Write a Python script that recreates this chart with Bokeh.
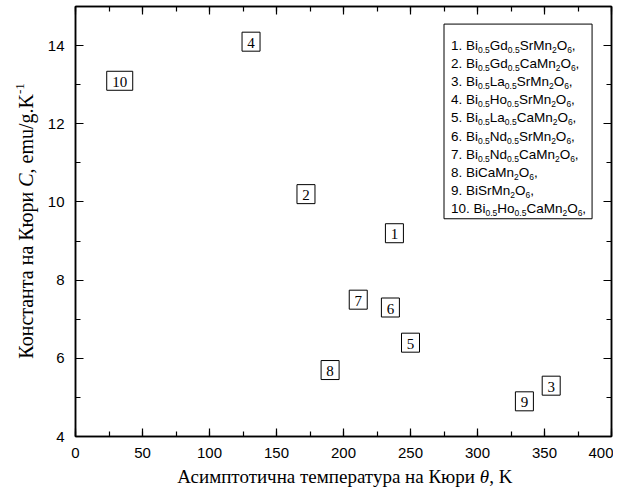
import re
import numpy as np
from bokeh.plotting import figure
from bokeh.models import (ColumnDataSource, LinearAxis, Range1d,
                          CustomJSTickFormatter, SingleIntervalTicker)
from bokeh.core.properties import value
from bokeh.embed import file_html
from bokeh.resources import INLINE

# ---------------- data ----------------
labels = ["1", "2", "3", "4", "5", "6", "7", "8", "9", "10"]
theta = [238, 172, 355, 131, 250, 235, 211, 190, 335, 33]
curie_c = [9.2, 10.2, 5.3, 14.1, 6.4, 7.3, 7.5, 5.7, 4.9, 13.1]

legend_entries = [
    "Bi_{0.5}Gd_{0.5}SrMn_{2}O_{6},",
    "Bi_{0.5}Gd_{0.5}CaMn_{2}O_{6},",
    "Bi_{0.5}La_{0.5}SrMn_{2}O_{6},",
    "Bi_{0.5}Ho_{0.5}SrMn_{2}O_{6},",
    "Bi_{0.5}La_{0.5}CaMn_{2}O_{6},",
    "Bi_{0.5}Nd_{0.5}SrMn_{2}O_{6},",
    "Bi_{0.5}Nd_{0.5}CaMn_{2}O_{6},",
    "BiCaMn_{2}O_{6},",
    "BiSrMn_{2}O_{6},",
    "Bi_{0.5}Ho_{0.5}CaMn_{2}O_{6},",
]

x_title_main = "Асимптотична температура на Кюри"
x_title_sym = "θ"
x_title_unit = ", K"
y_title_main = "Константа на Кюри"
y_title_sym = "C"
y_title_unit = ", emu/g.K"
y_title_sup = "-1"

X_RANGE = (0, 400)
Y_RANGE = (4, 15)

# ---------------- layout ----------------
W, H = 613, 487
BL, BR, BT, BB = 75, 2, 6, 51
FW = W - BL - BR
FH = H - BT - BB


def dx(px):
    return px * (X_RANGE[1] - X_RANGE[0]) / FW


def dy(px):
    return px * (Y_RANGE[1] - Y_RANGE[0]) / FH


p = figure(width=W, height=H, output_backend="svg", toolbar_location=None,
           x_range=Range1d(*X_RANGE), y_range=Range1d(*Y_RANGE),
           min_border_left=BL, min_border_right=BR,
           min_border_top=BT, min_border_bottom=BB,
           x_axis_location=None, y_axis_location=None)
p.grid.visible = False
p.outline_line_color = "black"
p.outline_line_width = 1.5
p.background_fill_color = "white"
p.border_fill_color = "white"

blank = CustomJSTickFormatter(code="return ''")


def make_axis(interval, show_labels, standoff):
    ax = LinearAxis(ticker=SingleIntervalTicker(interval=interval, num_minor_ticks=2))
    ax.axis_line_width = 1.5
    ax.axis_line_color = "black"
    ax.major_tick_in = 8
    ax.major_tick_out = 0
    ax.minor_tick_in = 5
    ax.minor_tick_out = 0
    ax.major_tick_line_width = 1.2
    ax.minor_tick_line_width = 1.2
    ax.major_tick_line_color = "black"
    ax.minor_tick_line_color = "black"
    ax.major_label_text_font = "Liberation Sans"
    ax.major_label_text_font_size = "15px"
    ax.major_label_text_color = "black"
    ax.major_label_standoff = standoff
    if not show_labels:
        ax.formatter = blank
    return ax


p.add_layout(make_axis(50, True, 11), "below")
p.add_layout(make_axis(2, True, 11), "left")
p.add_layout(make_axis(50, False, 0), "above")
p.add_layout(make_axis(2, False, 0), "right")

# ---------------- labelled points ----------------
src = ColumnDataSource(dict(
    x=theta, y=curie_c, t=labels,
    w=[18 if len(s) == 1 else 26 for s in labels],
))
p.rect(x="x", y="y", width="w", height=19, width_units="screen",
       height_units="screen", source=src, fill_color="white",
       line_color="black", line_width=1)
p.text(x="x", y="y", text="t", source=src, text_font=value("Liberation Serif"),
       text_font_size="15px", text_align="center", text_baseline="middle",
       text_color="black", y_offset=1)

# ---------------- legend ----------------
ARIAL = {' ': 278, '.': 278, ',': 278, 'B': 667, 'i': 222, 'G': 778, 'd': 556,
         'S': 667, 'r': 333, 'M': 833, 'n': 556, 'O': 778, 'C': 722, 'a': 556,
         'L': 556, 'H': 722, 'o': 556, 'N': 722}


def text_w(s, size):
    return sum(ARIAL.get(ch, 556) for ch in s) * size / 1000.0


LEG_L, LEG_R = 275.0, 385.5
LEG_T, LEG_B = 14.55, 9.57
MAIN, SUB = 13.5, 8.5
p.quad(left=[LEG_L], right=[LEG_R], top=[LEG_T], bottom=[LEG_B],
       fill_color="white", line_color="black", line_width=1)

xs, ys, txt, xo, yo, fs = [], [], [], [], [], []
for i, entry in enumerate(legend_entries):
    parts = re.split(r"_\{([^}]*)\}", f"{i + 1}. " + entry)
    cur = 7.0
    base = 21.5 + 18.1 * i
    for k, part in enumerate(parts):
        if not part:
            continue
        is_sub = (k % 2 == 1)
        size = SUB if is_sub else MAIN
        xs.append(LEG_L)
        ys.append(LEG_T)
        txt.append(part)
        xo.append(cur)
        yo.append(base + (4.5 if is_sub else 0))
        fs.append(f"{size}px")
        cur += text_w(part, size)
lsrc = ColumnDataSource(dict(x=xs, y=ys, t=txt, xo=xo, yo=yo, fs=fs))
p.text(x="x", y="y", text="t", x_offset="xo", y_offset="yo", text_font_size="fs",
       source=lsrc, text_font=value("Liberation Sans"),
       text_align="left", text_baseline="alphabetic", text_color="black")

# ---------------- axis titles (drawn at overlay level, outside the frame) -------
TF = value("Liberation Serif")


def title_piece(x, y, text, align, size="20px", style="normal", angle=0.0):
    p.text(x=[x], y=[y], text=[text], text_font=TF, text_font_size=size,
           text_font_style=style, text_align=align, text_baseline="middle",
           text_color="black", angle=angle, level="overlay")


XT = "19px"
xt_y = Y_RANGE[0] - dy(39.5)
x_mid = (X_RANGE[0] + X_RANGE[1]) / 2
x_sym = x_mid + dx(136.2)
title_piece(x_sym - dx(4.75), xt_y, x_title_main, "right", size=XT)
title_piece(x_sym, xt_y, x_title_sym, "left", size=XT, style="italic")
title_piece(x_sym + dx(9.5), xt_y, x_title_unit, "left", size=XT)

yt_x = X_RANGE[0] - dx(50)
y_mid = (Y_RANGE[0] + Y_RANGE[1]) / 2
y_sym = y_mid + dy(34.75)
title_piece(yt_x, y_sym - dy(5), y_title_main, "right", angle=np.pi / 2)
title_piece(yt_x, y_sym, y_title_sym, "left", style="italic", angle=np.pi / 2)
title_piece(yt_x, y_sym + dy(13.3), y_title_unit, "left", angle=np.pi / 2)
title_piece(yt_x - dx(6), y_sym + dy(13.3 + 79.4), y_title_sup, "left",
            size="13px", angle=np.pi / 2)

open("out.html", "w").write(file_html(p, INLINE))
